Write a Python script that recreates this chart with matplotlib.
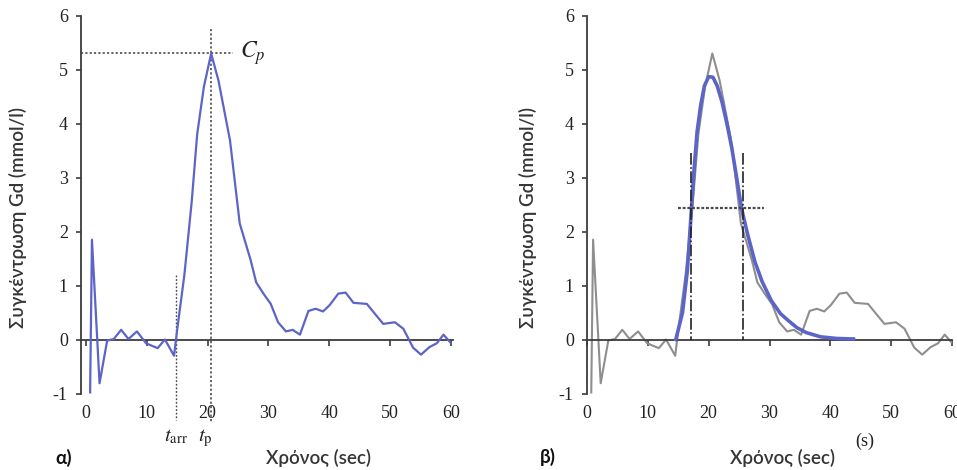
import matplotlib
matplotlib.use("Agg")
import matplotlib.pyplot as plt

plt.rcParams['axes.unicode_minus'] = False
plt.rcParams['mathtext.fontset'] = 'stix'

# ---- data ----
time_s = [0.7, 1.0, 2.25, 3.5, 4.6, 5.8, 7.0, 8.4, 9.9, 11.8, 13.0, 14.5, 15.0,
          16.2, 17.4, 18.3, 19.4, 20.6, 21.8, 23.7, 25.3, 27.1, 28.0, 29.2, 30.4,
          31.6, 32.9, 34.0, 35.2, 36.6, 37.8, 39.0, 40.1, 41.5, 42.7, 44.0, 46.2,
          47.5, 48.9, 50.8, 52.2, 53.8, 55.1, 56.5, 57.7, 58.8, 59.9]
conc = [-0.98, 1.85, -0.81, -0.02, 0.01, 0.18, 0.01, 0.15, -0.07, -0.16, 0.0, -0.30, 0.17,
        1.2, 2.55, 3.8, 4.68, 5.3, 4.8, 3.69, 2.15, 1.47, 1.06, 0.85, 0.66,
        0.32, 0.15, 0.18, 0.09, 0.53, 0.57, 0.52, 0.64, 0.85, 0.87, 0.68, 0.66,
        0.48, 0.29, 0.32, 0.20, -0.15, -0.28, -0.14, -0.07, 0.09, -0.05]

fit_t = [14.6, 15.7, 16.5, 17.1, 17.6, 18.1, 18.7, 19.3, 20.0, 20.7, 21.4, 22.2, 23.0,
         23.8, 24.6, 25.4, 26.4, 27.6, 28.8, 30.3, 31.8, 33.0, 34.5, 36.0, 38.4, 41.0, 43.8]
fit_c = [0.0, 0.5, 1.28, 2.3, 3.15, 3.85, 4.35, 4.7, 4.87, 4.86, 4.7, 4.4, 4.0,
         3.55, 3.0, 2.43, 1.95, 1.44, 1.07, 0.72, 0.48, 0.36, 0.22, 0.13, 0.05, 0.02, 0.01]

t_arr = 14.8
t_p = 20.6
C_p = 5.3
half_max = 2.43
fwhm_left = 17.1
fwhm_right = 25.6

x_ticks = [0, 10, 20, 30, 40, 50, 60]
y_ticks = [-1, 0, 1, 2, 3, 4, 5, 6]
ylabel = "Συγκέντρωση Gd (mmol/l)"
xlabel = "Χρόνος (sec)"

BLUE = '#5c64c8'
GRAY = '#8e8e8e'
AX = '#3c3c3c'
DOT = '#4a4a4a'

W, H = 957, 470
fig = plt.figure(figsize=(W / 100, H / 100), dpi=100)

def px_rect(x0, x1, ytop, ybot):
    return [x0 / W, (H - ybot) / H, (x1 - x0) / W, (ybot - ytop) / H]

axL = fig.add_axes(px_rect(81, 452.6, 15.7, 393.5))
axR = fig.add_axes(px_rect(587, 952, 15.7, 393.5))

def style(ax, xlim):
    ax.set_xlim(*xlim)
    ax.set_ylim(-1, 6)
    for s in ('top', 'right'):
        ax.spines[s].set_visible(False)
    ax.spines['bottom'].set_position(('data', 0))
    for s in ('left', 'bottom'):
        ax.spines[s].set_color(AX)
        ax.spines[s].set_linewidth(1.3)
    ax.set_xticks(x_ticks)
    ax.set_yticks(y_ticks)
    ax.set_xticklabels([str(v) for v in x_ticks])
    ax.set_yticklabels([str(v) for v in y_ticks])
    ax.tick_params(axis='x', direction='out', length=4, width=1.2, color=AX,
                   pad=43, labelsize=13, labelcolor='#222222')
    ax.tick_params(axis='y', direction='out', length=3.5, width=1.2, color=AX,
                   pad=6, labelsize=13, labelcolor='#222222')
    for lab in ax.get_xticklabels() + ax.get_yticklabels():
        lab.set_fontfamily('Liberation Serif')
    ax.patch.set_alpha(0)

style(axL, (-0.8, 60.3))
style(axR, (0, 60))

# ---- left panel ----
axL.plot(time_s, conc, color=BLUE, lw=1.6, zorder=3)
axL.plot([-0.8, 24.2], [C_p, C_p], color=DOT, lw=1.2, ls=(0, (1.3, 1.3)), zorder=2)
axL.plot([t_p, t_p], [5.75, -1.55], color=DOT, lw=1.2, ls=(0, (1.3, 1.3)),
         clip_on=False, zorder=2)
axL.plot([t_arr, t_arr], [1.19, -1.5], color=DOT, lw=1.0, ls=(0, (1.3, 1.3)),
         clip_on=False, zorder=2)
axL.text(25.3, C_p, r'$C_p$', fontsize=17, va='center', ha='left', color='#222222')

# ---- right panel ----
axR.plot(time_s, conc, color=GRAY, lw=1.5, zorder=2)
axR.plot(fit_t, fit_c, color=BLUE, lw=2.6, zorder=3)
for xv in (fwhm_left, fwhm_right):
    axR.plot([xv, xv], [3.45, 0], color='#222222', lw=1.2, ls=(0, (7, 1.5, 1, 1.5)), zorder=4)
axR.plot([15.0, 29.1], [half_max, half_max], color=DOT, lw=1.6, ls=(0, (1.3, 0.8)), zorder=4)

# ---- figure texts ----
txt_kw = dict(family='Lato', color='#353535', fontsize=13.5, fontweight='semibold')
fig.text(18 / W, 1 - 218 / H, ylabel, rotation=90, ha='center', va='center', **txt_kw)
fig.text(528 / W, 1 - 218 / H, ylabel, rotation=90, ha='center', va='center', **txt_kw)
fig.text(318 / W, 1 - 458 / H, xlabel, ha='center', va='center', **txt_kw)
fig.text(783 / W, 1 - 458 / H, xlabel, ha='center', va='center', **txt_kw)
fig.text(55 / W, 1 - 458 / H, 'α)', ha='left', va='center', family='Lato',
         fontweight='bold', fontsize=13.5, color='#111111')
fig.text(540 / W, 1 - 457 / H, 'β)', ha='left', va='center', family='Lato',
         fontweight='bold', fontsize=13.5, color='#111111')
fig.text(865 / W, 1 - 441 / H, '(s)', ha='center', va='center', family='Liberation Serif',
         fontsize=13, color='#222222')
fig.text(176 / W, 1 - 441 / H, r'$t_{\mathrm{arr}}$', ha='center', va='baseline',
         fontsize=15, color='#222222')
fig.text(205 / W, 1 - 441 / H, r'$t_{\mathrm{p}}$', ha='center', va='baseline',
         fontsize=15, color='#222222')

fig.savefig('out.png', dpi=100)
